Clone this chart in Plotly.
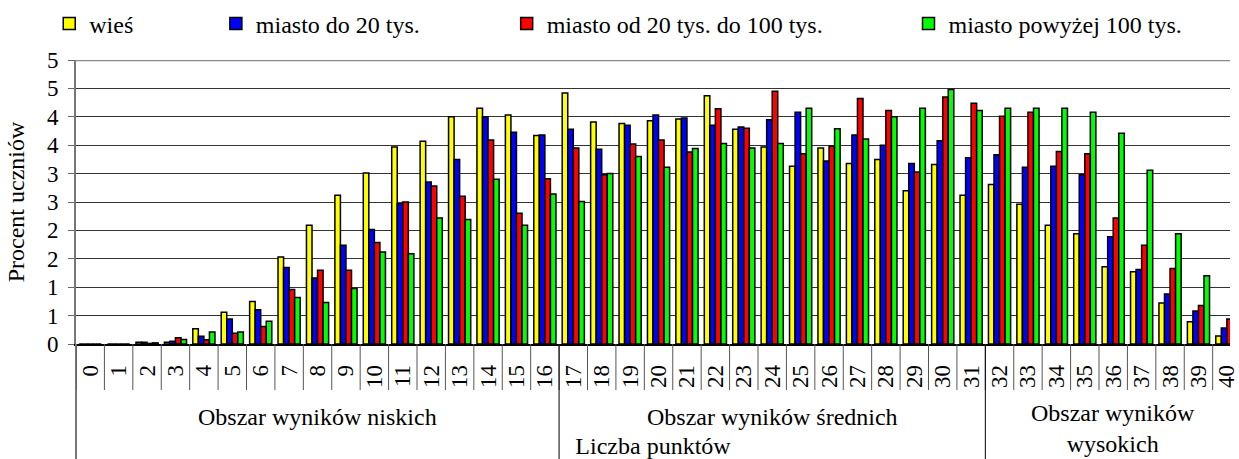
import plotly.graph_objects as go

# Score points 0..40 on the horizontal axis
points = [str(i) for i in range(41)]

# Percentage of students per score, by place of residence
wies = [0, 0, 0.03, 0.03, 0.27, 0.56, 0.75, 1.53, 2.09, 2.62, 3.01,
        3.47, 3.57, 4.00, 4.15, 4.03, 3.67, 4.42, 3.91, 3.88, 3.93,
        3.96, 4.37, 3.78, 3.47, 3.13, 3.45, 3.18, 3.25, 2.70, 3.16,
        2.62, 2.81, 2.46, 2.09, 1.94, 1.36, 1.27, 0.72, 0.39, 0.14]
miasto_do_20 = [0, 0, 0.03, 0.05, 0.135, 0.44, 0.605, 1.345, 1.163, 1.74, 2.015,
                2.47, 2.85, 3.25, 4.00, 3.73, 3.68, 3.78, 3.43, 3.85, 4.03,
                3.98, 3.85, 3.82, 3.95, 4.08, 3.22, 3.68, 3.50, 3.18, 3.58,
                3.28, 3.33, 3.11, 3.13, 2.98, 1.89, 1.31, 0.88, 0.58, 0.28]
miasto_20_100 = [0, 0, 0.01, 0.11, 0.076, 0.19, 0.31, 0.96, 1.30, 1.30, 1.786,
                 2.50, 2.78, 2.60, 3.59, 2.30, 2.91, 3.45, 2.98, 3.52, 3.59,
                 3.38, 4.14, 3.80, 4.45, 3.35, 3.48, 4.32, 4.11, 3.03, 4.35,
                 4.24, 4.01, 4.08, 3.39, 3.35, 2.22, 1.74, 1.33, 0.68, 0.44]
miasto_pow_100 = [0, 0, 0.02, 0.08, 0.21, 0.21, 0.40, 0.82, 0.73, 0.975, 1.62,
                  1.59, 2.22, 2.19, 2.90, 2.09, 2.64, 2.51, 3.00, 3.30, 3.11,
                  3.44, 3.53, 3.45, 3.53, 4.15, 3.79, 3.61, 4.00, 4.15, 4.48,
                  4.11, 4.15, 4.15, 4.15, 4.08, 3.71, 3.06, 1.94, 1.20, 0.62]

series_names = ["wieś", "miasto do 20 tys.", "miasto od 20 tys. do 100 tys.",
                "miasto powyżej 100 tys."]
series_values = [wies, miasto_do_20, miasto_20_100, miasto_pow_100]
series_colors = ["#FFFF00", "#0000FF", "#FF0000", "#00FF00"]

# Y ticks every half percent, labels rounded to whole numbers
y_tick_values = [0, 0.5, 1, 1.5, 2, 2.5, 3, 3.5, 4, 4.5, 5]
y_tick_text = ["0", "1", "1", "2", "2", "3", "3", "4", "4", "5", "5"]

# Score ranges grouped under the point labels
group_labels = ["Obszar wyników niskich", "Obszar wyników średnich",
                "Obszar wyników<br>wysokich"]
group_first = [0, 17, 32]
group_last = [16, 31, 40]

FONT = "Liberation Serif"
TXT = dict(family=FONT, size=24, color="black")

legend_ids = ["legend", "legend2", "legend3", "legend4"]
legend_x = [-0.0232, 0.1212, 0.3732, 0.7214]

fig = go.Figure()
for name, vals, col, lid in zip(series_names, series_values, series_colors, legend_ids):
    fig.add_trace(go.Bar(
        x=points, y=vals, name=name, legend=lid,
        marker=dict(color=col, line=dict(color="black", width=1.5)),
    ))

layout_legends = {}
for lid, lx in zip(legend_ids, legend_x):
    layout_legends[lid] = dict(
        x=lx, y=1.127, xanchor="left", yanchor="middle", orientation="h",
        bgcolor="rgba(0,0,0,0)", font=TXT,
    )

# depth of the score-label row and of the whole label area, in paper units
label_row = -0.162
label_area = -0.42

shapes = [
    # top frame line
    dict(type="line", xref="paper", yref="y", x0=0, x1=1, y0=5, y1=5,
         line=dict(color="#8a8a8a", width=2.5)),
    # left frame continues through the label rows
    dict(type="line", xref="paper", yref="paper", x0=0, x1=0, y0=0, y1=label_area,
         line=dict(color="#777777", width=2)),
]
# separators between the score labels
for i in range(len(points) + 1):
    shapes.append(dict(type="line", xref="x", yref="paper", x0=i - 0.5, x1=i - 0.5,
                       y0=0, y1=label_row, line=dict(color="#555555", width=1)))
# separators between score ranges
for last in group_last[:-1]:
    shapes.append(dict(type="line", xref="x", yref="paper", x0=last + 0.5, x1=last + 0.5,
                       y0=0, y1=label_area, line=dict(color="black", width=1)))

annotations = []
for lab, a, b in zip(group_labels, group_first, group_last):
    two_lines = "<br>" in lab
    annotations.append(dict(
        text=lab, x=(a + b) / 2, xref="x", y=-0.298 if two_lines else -0.257,
        yref="paper", xanchor="center", yanchor="middle", showarrow=False,
        font=TXT,
    ))

fig.update_layout(
    width=1239, height=459,
    margin=dict(l=76, r=0, t=60, b=115),
    paper_bgcolor="white", plot_bgcolor="white",
    barmode="group", bargap=0.22, bargroupgap=0,
    showlegend=True,
    shapes=shapes, annotations=annotations,
    font=TXT,
    **layout_legends,
)

fig.update_xaxes(
    type="category", categoryorder="array", categoryarray=points,
    range=[-0.5, 40.11],
    ticks="", tickangle=-90, ticklabelstandoff=10,
    tickfont=dict(family=FONT, size=23, color="black"),
    showgrid=False, showline=True, linecolor="black", linewidth=1.5,
    zeroline=False,
    title=dict(text="Liczba punktów", font=TXT, standoff=52),
)
fig.update_yaxes(
    range=[0, 5], tickvals=y_tick_values, ticktext=y_tick_text,
    ticks="outside", ticklen=6, tickcolor="#666666", ticklabelstandoff=5,
    tickfont=dict(family=FONT, size=23, color="black"),
    showgrid=True, gridcolor="#333333", gridwidth=1,
    showline=True, linecolor="#777777", linewidth=2, zeroline=False,
    title=dict(text="Procent uczniów", font=TXT, standoff=16),
)

fig.write_html("out.html")
